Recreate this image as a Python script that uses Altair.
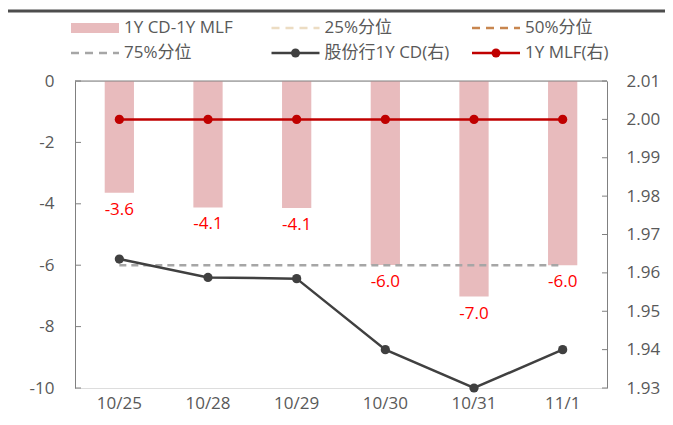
import altair as alt
import pandas as pd

# ---- data ----
dates = ["10/25", "10/28", "10/29", "10/30", "10/31", "11/1"]
spread = [-3.64, -4.12, -4.14, -5.99, -7.02, -6.0]          # 1Y CD - 1Y MLF (left)
cd_rate = [1.9636, 1.9588, 1.9585, 1.9400, 1.9300, 1.9400]   # 股份行1Y CD (right)
mlf_rate = [2.00, 2.00, 2.00, 2.00, 2.00, 2.00]              # 1Y MLF (right)
p75 = [-6.0, -6.0, -6.0, -6.0, -6.0, -6.0]                   # 75%分位
left_ticks = [-10, -8, -6, -4, -2, 0]
right_ticks = [1.93, 1.94, 1.95, 1.96, 1.97, 1.98, 1.99, 2.00, 2.01]
legend_names = ["1Y CD-1Y MLF", "25%分位", "50%分位", "75%分位", "股份行1Y CD(右)", "1Y MLF(右)"]

W, H = 532, 307
FONT = "Open Sans, Noto Sans CJK SC, sans-serif"
FS = 17
AX = "#808080"
LAB = "#595959"
FIX = "replace(datum.label, '\u2212', '-')"

df = pd.DataFrame({"date": dates, "spread": spread, "cd": cd_rate, "mlf": mlf_rate, "p75": p75})

xenc = alt.X("date:N", sort=dates,
             scale=alt.Scale(paddingInner=0.67, paddingOuter=0.335),
             axis=alt.Axis(title=None, orient="bottom", domain=False, ticks=False,
                           labelPadding=7, labelFontSize=FS, labelColor=LAB, labelAngle=0))

yl_scale = alt.Scale(domain=[-10, 0], nice=False, zero=False)
yr_scale = alt.Scale(domain=[1.93, 2.01], nice=False, zero=False)

yl_axis = alt.Axis(title=None, values=left_ticks, tickSize=0, labelPadding=21, grid=False,
                   domainColor=AX, labelFontSize=FS, labelColor=LAB, labelOverlap=False,
                   labelExpr=FIX)
yr_axis = alt.Axis(title=None, orient="right", values=right_ticks, format=".2f", tickSize=0,
                   labelPadding=19, grid=False, domainColor=AX, labelFontSize=FS, labelColor=LAB,
                   labelOverlap=False)

base = alt.Chart(df).encode(x=xenc)

bars = base.mark_bar(color="#e8bbbd").encode(y=alt.Y("spread:Q", scale=yl_scale, axis=yl_axis))
p75_line = base.mark_line(color="#a6a6a6", strokeWidth=2.5, strokeDash=[7, 5]).encode(
    y=alt.Y("p75:Q", scale=yl_scale, axis=yl_axis))
bar_labels = base.transform_calculate(
    lbl="replace(format(datum.spread, '.1f'), '\u2212', '-')"
).mark_text(color="#ff0000", fontSize=FS, dy=17, baseline="middle").encode(
    y=alt.Y("spread:Q", scale=yl_scale, axis=yl_axis), text="lbl:N")

top_line = alt.Chart(pd.DataFrame({"v": [0]})).mark_rule(color=AX, strokeWidth=1).encode(
    y=alt.Y("v:Q", scale=yl_scale, axis=yl_axis), x=alt.value(0), x2=alt.value(W))
lt = alt.Chart(pd.DataFrame({"v": left_ticks})).mark_rule(color=AX, strokeWidth=1).encode(
    y=alt.Y("v:Q", scale=yl_scale, axis=yl_axis), x=alt.value(0), x2=alt.value(6))

# ---- custom legend (two rows of three) ----
header = alt.Chart(pd.DataFrame({"v": [0]})).mark_rule(color="#4d4d4d", strokeWidth=3).encode(
    x=alt.value(-68), x2=alt.value(W + 60), y=alt.value(-70))
leg_layers = [header]
styles = [
    dict(kind="box", color="#e8bbbd"),
    dict(kind="dash", color="#ecdcc2"),
    dict(kind="dash", color="#c8864f"),
    dict(kind="dash", color="#a6a6a6"),
    dict(kind="dot", color="#404040"),
    dict(kind="dot", color="#c00000"),
]
SW = 48
for i, (name, st) in enumerate(zip(legend_names, styles)):
    x0 = -4 + (i % 3) * 200.5
    yy = -53 + (i // 3) * 25
    one = alt.Chart(pd.DataFrame({"t": [name]}))
    if st["kind"] == "box":
        sw = one.mark_rect(color=st["color"]).encode(
            x=alt.value(x0), x2=alt.value(x0 + SW), y=alt.value(yy - 5), y2=alt.value(yy + 5))
        leg_layers.append(sw)
    elif st["kind"] == "dash":
        sw = one.mark_rule(color=st["color"], strokeWidth=2.5, strokeDash=[8, 6]).encode(
            x=alt.value(x0), x2=alt.value(x0 + SW), y=alt.value(yy))
        leg_layers.append(sw)
    else:
        sw = one.mark_rule(color=st["color"], strokeWidth=2.5).encode(
            x=alt.value(x0), x2=alt.value(x0 + SW), y=alt.value(yy))
        pt = one.mark_point(color=st["color"], filled=True, opacity=1, size=80).encode(
            x=alt.value(x0 + SW / 2), y=alt.value(yy))
        leg_layers += [sw, pt]
    tx = one.mark_text(align="left", baseline="middle", fontSize=FS, color=LAB).encode(
        x=alt.value(x0 + SW + 5), y=alt.value(yy), text="t:N")
    leg_layers.append(tx)

left = alt.layer(bars, p75_line, bar_labels, top_line, lt, *leg_layers)

cd_line = base.mark_line(color="#404040", strokeWidth=2.5).encode(
    y=alt.Y("cd:Q", scale=yr_scale, axis=yr_axis))
cd_pts = base.mark_point(color="#404040", filled=True, opacity=1, size=85).encode(
    y=alt.Y("cd:Q", scale=yr_scale, axis=yr_axis))
mlf_line = base.mark_line(color="#c00000", strokeWidth=2.5).encode(
    y=alt.Y("mlf:Q", scale=yr_scale, axis=yr_axis))
mlf_pts = base.mark_point(color="#c00000", filled=True, opacity=1, size=85).encode(
    y=alt.Y("mlf:Q", scale=yr_scale, axis=yr_axis))
rt = alt.Chart(pd.DataFrame({"v": right_ticks})).mark_rule(color=AX, strokeWidth=1).encode(
    y=alt.Y("v:Q", scale=yr_scale, axis=yr_axis), x=alt.value(W - 5), x2=alt.value(W))

right = alt.layer(cd_line, cd_pts, mlf_line, mlf_pts, rt)

chart = alt.layer(left, right).resolve_scale(y="independent").properties(
    width=W, height=H,
    autosize=alt.AutoSizeParams(type="none"),
    padding={"left": 67, "top": 73, "right": 58, "bottom": 29},
).configure_view(stroke=None).configure(font=FONT).configure_axis(labelOverlap=False)

chart.save("out.html", embed_options={"renderer": "svg", "actions": False})
